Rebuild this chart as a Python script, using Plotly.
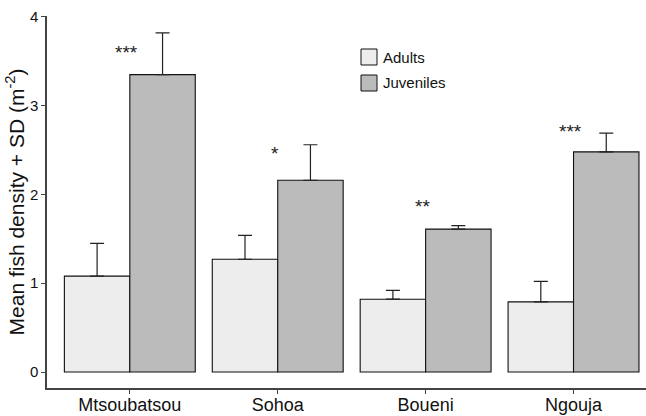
import plotly.graph_objects as go

sites = ["Mtsoubatsou", "Sohoa", "Boueni", "Ngouja"]
adults_mean = [1.08, 1.27, 0.82, 0.79]
adults_sd = [0.37, 0.27, 0.10, 0.23]
juveniles_mean = [3.35, 2.16, 1.61, 2.48]
juveniles_sd = [0.47, 0.40, 0.04, 0.21]
signif = ["***", "*", "**", "***"]
signif_y = [3.60, 2.46, 1.86, 2.71]

FONT = "Liberation Sans, Arial, Helvetica, sans-serif"
ADULT_FILL = "#ededed"
JUV_FILL = "#bbbbbb"

fig = go.Figure()
for name, mean, sd, fill in [
    ("Adults", adults_mean, adults_sd, ADULT_FILL),
    ("Juveniles", juveniles_mean, juveniles_sd, JUV_FILL),
]:
    fig.add_trace(go.Bar(
        x=sites, y=mean, name=name,
        marker=dict(color=fill, line=dict(color="#111111", width=1.1)),
        error_y=dict(type="data", symmetric=False, array=sd,
                     arrayminus=[0] * len(sd), color="#222222",
                     thickness=1.2, width=7),
        showlegend=False,
    ))

# significance stars, placed just left of the juvenile bar
for i, (s, yv) in enumerate(zip(signif, signif_y)):
    fig.add_annotation(x=i - 0.02, y=yv, text=s, showarrow=False,
                       font=dict(family=FONT, size=19, color="#222222"),
                       xref="x", yref="y", yanchor="middle")

# hand-drawn legend
legend_items = [("Adults", ADULT_FILL, 57), ("Juveniles", JUV_FILL, 83)]
for label, fill, yc in legend_items:
    fig.add_shape(type="rect", xref="paper", yref="paper",
                  x0=(361 - 47) / 599, x1=(377 - 47) / 599,
                  y0=(388 - (yc + 8)) / 372, y1=(388 - (yc - 8)) / 372,
                  fillcolor=fill, line=dict(color="#111111", width=1))
    fig.add_annotation(xref="paper", yref="paper",
                       x=(381 - 47) / 599, y=(388 - yc) / 372,
                       xanchor="left", yanchor="middle", text=label,
                       showarrow=False,
                       font=dict(family=FONT, size=15, color="#111111"))

fig.update_layout(
    width=646, height=416,
    margin=dict(l=47, r=0, t=16, b=28),
    paper_bgcolor="white", plot_bgcolor="white",
    barmode="group", bargap=0.115, bargroupgap=0,
    font=dict(family=FONT, color="#111111"),
)
fig.update_xaxes(
    range=[-0.56, 3.49], showline=True, linecolor="#444444", linewidth=1.5,
    ticks="outside", ticklen=4, tickcolor="#444444", tickwidth=1.2,
    tickfont=dict(size=18, color="#111111"), ticklabelstandoff=-4,
    showgrid=False, zeroline=False, automargin=False,
)
fig.update_yaxes(
    range=[-0.18, 4.01], showline=True, linecolor="#444444", linewidth=1.5,
    ticks="outside", ticklen=4, tickcolor="#444444", tickwidth=1.2,
    tickvals=[0, 1, 2, 3, 4], tickfont=dict(size=15, color="#111111"),
    showgrid=False, zeroline=False, automargin=False,
    title=dict(text="Mean fish density + SD (m<sup>-2</sup>)",
               font=dict(size=21, color="#111111"), standoff=0),
)

fig.write_html("out.html")
